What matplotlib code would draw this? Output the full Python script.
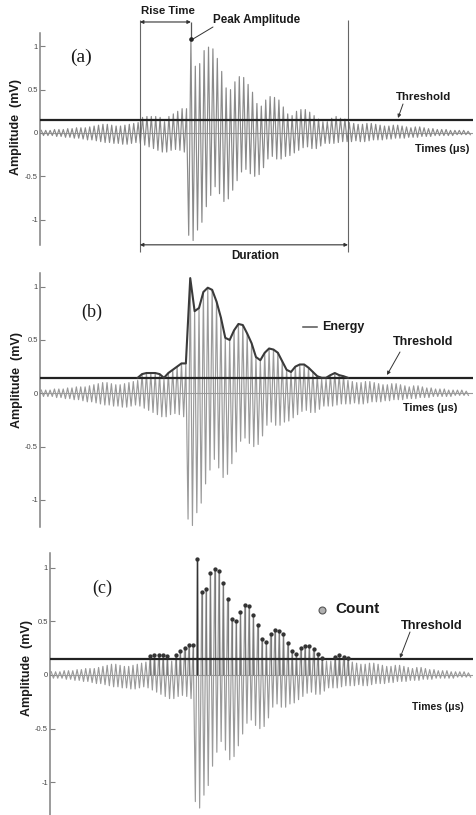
import numpy as np
import matplotlib
matplotlib.use('Agg')
import matplotlib.pyplot as plt
from matplotlib.lines import Line2D

plt.rcParams['font.family'] = ['Liberation Sans', 'DejaVu Sans']

# амплитуды положительных пиков каждого периода (мВ)
pos_peaks = [0.03, 0.03, 0.03, 0.04, 0.04, 0.04, 0.05, 0.05, 0.06, 0.06, 0.06, 0.07,
             0.08, 0.09, 0.10, 0.10, 0.09, 0.08, 0.08, 0.09, 0.10, 0.11, 0.12,
             0.18, 0.19, 0.19, 0.19, 0.18, 0.13, 0.19, 0.22, 0.25, 0.28, 0.28,
             1.08,
             0.77, 0.80, 0.95, 0.99, 0.97, 0.86, 0.71, 0.52, 0.50, 0.59,
             0.65, 0.64, 0.56, 0.47, 0.34, 0.31, 0.38, 0.42, 0.41, 0.38,
             0.30, 0.22, 0.20, 0.25, 0.27, 0.27, 0.24, 0.20, 0.16, 0.13,
             0.13, 0.17, 0.19, 0.17, 0.16,
             0.12, 0.11, 0.10, 0.10, 0.11, 0.11, 0.10, 0.09, 0.08, 0.08,
             0.09, 0.09, 0.08, 0.07, 0.06, 0.07, 0.07, 0.06, 0.05, 0.05,
             0.04, 0.04, 0.04, 0.03, 0.03, 0.03, 0.03, 0.02]

# амплитуды отрицательных пиков (мВ)
neg_peaks = [-0.03, -0.03, -0.03, -0.04, -0.04, -0.05, -0.05, -0.06, -0.06, -0.07, -0.08, -0.08,
             -0.09, -0.10, -0.11, -0.11, -0.12, -0.12, -0.13, -0.13, -0.12, -0.11, -0.12,
             -0.14, -0.16, -0.18, -0.20, -0.22, -0.22, -0.20, -0.19, -0.20, -0.22,
             -1.18, -1.24, -1.12, -1.03, -0.85, -0.72, -0.62, -0.70, -0.79, -0.76, -0.66, -0.55,
             -0.45, -0.42, -0.47, -0.50, -0.48, -0.40, -0.30, -0.27, -0.30, -0.30,
             -0.27, -0.26, -0.23, -0.20, -0.17, -0.16, -0.18, -0.18, -0.15, -0.12,
             -0.12, -0.12, -0.11, -0.10, -0.10,
             -0.10, -0.09, -0.10, -0.10, -0.09, -0.08, -0.08, -0.08, -0.07, -0.07,
             -0.06, -0.06, -0.06, -0.05, -0.05, -0.05, -0.04, -0.04, -0.04, -0.03,
             -0.03, -0.03, -0.03, -0.03, -0.02, -0.02, -0.02, -0.02]

threshold = 0.145
peak_i = 34          # номер периода с максимальной амплитудой
rise_start = 22.4    # первое пересечение порога
dur_end = 69.7       # последнее пересечение порога
energy_from, energy_to = 22, 70

ytick_vals = [-1, -0.5, 0, 0.5, 1]
ytick_labels = ['-1', '-0.5', '0', '0.5', '1']

W, H = 476, 815
pos = np.array(pos_peaks)
neg = np.array(neg_peaks)
t = np.arange(len(pos))
xs = np.column_stack([t, t + 0.5]).ravel()
ys = np.column_stack([pos, neg]).ravel()


def fx(px):
    return px / W


def fy(py):
    return 1 - py / H


def fp(px, py):
    return (px, H - py)


fig = plt.figure(figsize=(W / 100, H / 100), dpi=100)


def make_axes(left, right, top, bottom, xlim, ylim, wave_color):
    ax = fig.add_axes([fx(left), fy(bottom), (right - left) / W, (bottom - top) / H])
    ax.set_xlim(*xlim)
    ax.set_ylim(*ylim)
    for s in ['top', 'right', 'bottom']:
        ax.spines[s].set_visible(False)
    ax.spines['left'].set_color('#808080')
    ax.spines['left'].set_linewidth(1.1)
    ax.set_xticks([])
    ax.set_yticks(ytick_vals)
    ax.set_yticklabels(ytick_labels)
    ax.tick_params(axis='y', direction='in', length=3.5, width=0.8, color='#808080',
                   labelsize=5.5, labelcolor='#444444', pad=1.5)
    ax.patch.set_alpha(0)
    ax.axhline(0, color='#9a9a9a', lw=0.8, zorder=1)
    ax.plot(xs, ys, color=wave_color, lw=0.85, zorder=2)
    ax.axhline(threshold, color='#222222', lw=1.6, zorder=4)
    return ax


def label(px, py, s, size, ha='center', weight='bold', **kw):
    fig.text(fx(px), fy(py), s, ha=ha, va='center', fontsize=size, fontweight=weight,
             color='#1a1a1a', **kw)


def leader(p0, p1, head=True):
    style = '-|>' if head else '-'
    fig.axes[0].annotate('', xy=fp(*p1), xycoords='figure pixels', xytext=fp(*p0),
                         textcoords='figure pixels', annotation_clip=False,
                         arrowprops=dict(arrowstyle=style, color='#333333', lw=0.7,
                                         mutation_scale=5, shrinkA=0, shrinkB=0))


# ---------- (a) ----------
ax_a = make_axes(40, 472.5, 33, 245, (-0.3, 98.0), (-1.292, 1.153), '#8a8a8a')
ax_a.vlines([rise_start, dur_end], -1.373, 1.303, color='#666666', lw=0.8, clip_on=False)
ax_a.vlines(peak_i, pos[peak_i], 1.28, color='#555555', lw=0.9, clip_on=False)
ax_a.plot(peak_i, pos[peak_i], 'o', ms=2.3, color='#222222', zorder=5)
for y0 in [1.28, -1.29]:
    x1 = peak_i if y0 > 0 else dur_end
    ax_a.annotate('', xy=(rise_start, y0), xytext=(x1, y0), annotation_clip=False,
                  arrowprops=dict(arrowstyle='<|-|>', color='#333333', lw=0.8,
                                  mutation_scale=5, shrinkA=0, shrinkB=0))
label(168, 11, 'Rise Time', 8.2)
label(213, 20, 'Peak Amplitude', 8.4, ha='left')
leader((213, 27), (193, 39), head=False)
label(255, 256, 'Duration', 8.4)
label(424, 97, 'Threshold', 8.2)
leader((403, 104), (398, 118))
label(442, 149, 'Times (μs)', 7.8)
label(81, 57, '(a)', 14, weight='normal', family='Liberation Serif')
fig.text(fx(16.5), fy(127), 'Amplitude  (mV)', rotation=90, ha='center', va='center',
         fontsize=9, fontweight='bold', color='#1a1a1a')

# ---------- (b) ----------
ax_b = make_axes(40, 473, 273, 527, (-0.3, 98.55), (-1.254, 1.128), '#9a9a9a')
seg = slice(energy_from, energy_to + 1)
ax_b.plot(t[seg], np.maximum(pos[seg], threshold), color='#3a3a3a', lw=1.5, zorder=5)
label(92, 312, '(b)', 13, weight='normal', family='Liberation Serif')
fig.add_artist(Line2D([fx(303), fx(317)], [fy(327), fy(327)], transform=fig.transFigure,
                      color='#555555', lw=1.1))
label(322, 327, 'Energy', 9, ha='left')
label(423, 342, 'Threshold', 9)
leader((400, 352), (387, 375))
label(430, 408, 'Times (μs)', 7.8)
fig.text(fx(17), fy(380), 'Amplitude  (mV)', rotation=90, ha='center', va='center',
         fontsize=9, fontweight='bold', color='#1a1a1a')

# ---------- (c) ----------
ax_c = make_axes(50, 472.7, 553, 815, (-0.3, 98.0), (-1.305, 1.137), '#9a9a9a')
hit = pos > threshold
ax_c.vlines(t[hit], 0, pos[hit], color='#7a7a7a', lw=0.9, zorder=3)
ax_c.vlines(peak_i, 0, pos[peak_i], color='#333333', lw=1.0, zorder=3)
ax_c.plot(t[hit], pos[hit], 'o', ms=2.1, color='#333333', zorder=5, clip_on=False)
label(102, 588, '(c)', 13, weight='normal', family='Liberation Serif')
fig.add_artist(Line2D([fx(322)], [fy(610)], transform=fig.transFigure, marker='o',
                      ms=5, mfc='#b0b0b0', mec='#555555', mew=0.8, ls='none'))
label(335, 609, 'Count', 11, ha='left')
label(432, 626, 'Threshold', 9.2)
leader((410, 632), (400, 658))
label(438, 707, 'Times (μs)', 7.5)
fig.text(fx(27), fy(668), 'Amplitude  (mV)', rotation=90, ha='center', va='center',
         fontsize=9, fontweight='bold', color='#1a1a1a')

fig.savefig('out.png', dpi=100)
